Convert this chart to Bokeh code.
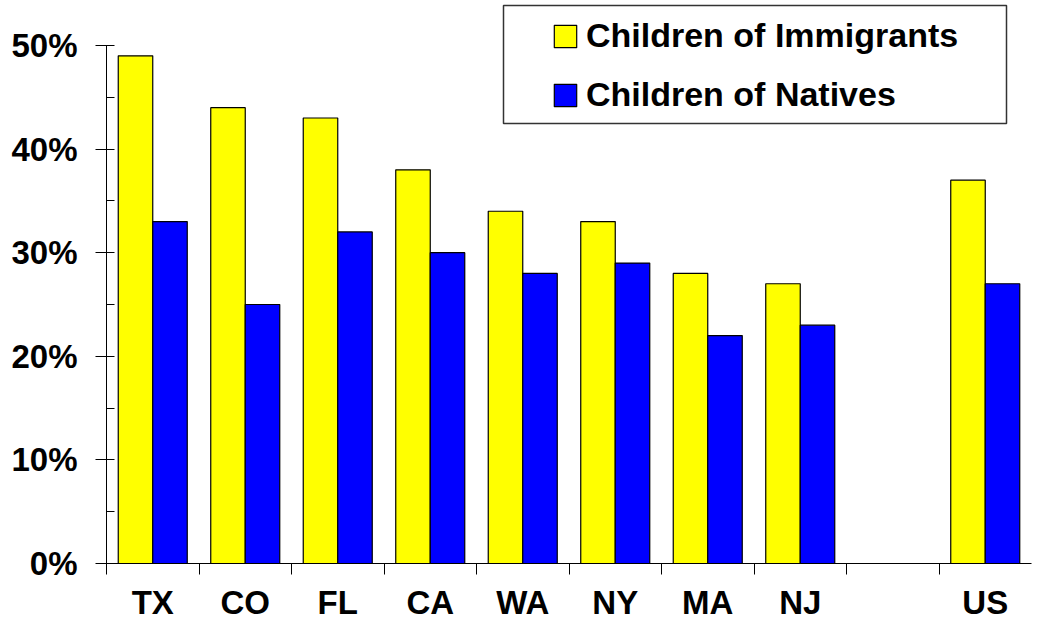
from bokeh.plotting import figure
from bokeh.models import (Range1d, FixedTicker, PrintfTickFormatter, Legend, LegendItem,
                          BoxAnnotation, ColumnDataSource)
from bokeh.transform import dodge
from bokeh.embed import file_html
from bokeh.resources import INLINE

categories = ["TX", "CO", "FL", "CA", "WA", "NY", "MA", "NJ", "", "US"]
immigrants = [49, 44, 43, 38, 34, 33, 28, 27, None, 37]
natives = [33, 25, 32, 30, 28, 29, 22, 23, None, 27]
y_ticks = [0, 10, 20, 30, 40, 50]
y_minor = [5, 15, 25, 35, 45]
series_names = ["Children of Immigrants", "Children of Natives"]

FONT = "Liberation Sans"
nan = float("nan")
xs = list(range(len(categories)))
src = ColumnDataSource(dict(
    x=xs,
    imm=[nan if v is None else v for v in immigrants],
    nat=[nan if v is None else v for v in natives],
))

p = figure(width=1038, height=626,
           x_range=Range1d(-0.5, len(categories) - 0.5),
           y_range=Range1d(0, 54.34),
           output_backend="svg", toolbar_location=None,
           min_border_left=106, min_border_right=7, min_border_top=0, min_border_bottom=63)
p.outline_line_color = None
p.xgrid.visible = False
p.ygrid.visible = False

bw = 0.373
r1 = p.vbar(x=dodge("x", -bw / 2, range=p.x_range), top="imm", width=bw, source=src,
            fill_color="#FFFF00", line_color="black", line_width=1.2)
r2 = p.vbar(x=dodge("x", bw / 2, range=p.x_range), top="nat", width=bw, source=src,
            fill_color="#0000FF", line_color="black", line_width=1.2)

# x axis
xa = p.xaxis[0]
xa.ticker = FixedTicker(ticks=xs, minor_ticks=[i - 0.5 for i in xs])
xa.major_label_overrides = {i: c for i, c in enumerate(categories)}
xa.major_tick_line_color = None
xa.major_tick_out = 0
xa.major_tick_in = 0
xa.minor_tick_in = 0
xa.minor_tick_out = 11
xa.minor_tick_line_color = "black"
xa.axis_line_color = "black"
xa.axis_line_width = 1
xa.major_label_standoff = 9
xa.major_label_text_font = FONT
xa.major_label_text_font_style = "bold"
xa.major_label_text_font_size = "33px"
xa.major_label_text_color = "black"

# y axis
ya = p.yaxis[0]
ya.bounds = (0, 50)
ya.ticker = FixedTicker(ticks=y_ticks, minor_ticks=y_minor)
ya.formatter = PrintfTickFormatter(format="%d%%")
ya.major_tick_in = 8
ya.major_tick_out = 11
ya.minor_tick_in = 8
ya.minor_tick_out = 0
ya.major_tick_line_color = "black"
ya.minor_tick_line_color = "black"
ya.axis_line_color = "black"
ya.major_label_standoff = 18
ya.major_label_text_font = FONT
ya.major_label_text_font_style = "bold"
ya.major_label_text_font_size = "33px"
ya.major_label_text_color = "black"

legend = Legend(items=[LegendItem(label=series_names[0], renderers=[r1]),
                       LegendItem(label=series_names[1], renderers=[r2])],
                location=(445, 449), padding=0, spacing=20, margin=0,
                glyph_width=28, glyph_height=28, label_standoff=7,
                label_text_font=FONT, label_text_font_style="bold",
                label_text_font_size="34px", label_text_color="black",
                border_line_color=None, background_fill_alpha=0)
p.add_layout(legend)

box = BoxAnnotation(left=397, right=900, top=558, bottom=440,
                    left_units="screen", right_units="screen",
                    top_units="screen", bottom_units="screen",
                    fill_color=None, fill_alpha=0,
                    line_color="#333333", line_alpha=1.0, line_width=1.5)
p.add_layout(box)

open("out.html", "w").write(file_html(p, INLINE))
